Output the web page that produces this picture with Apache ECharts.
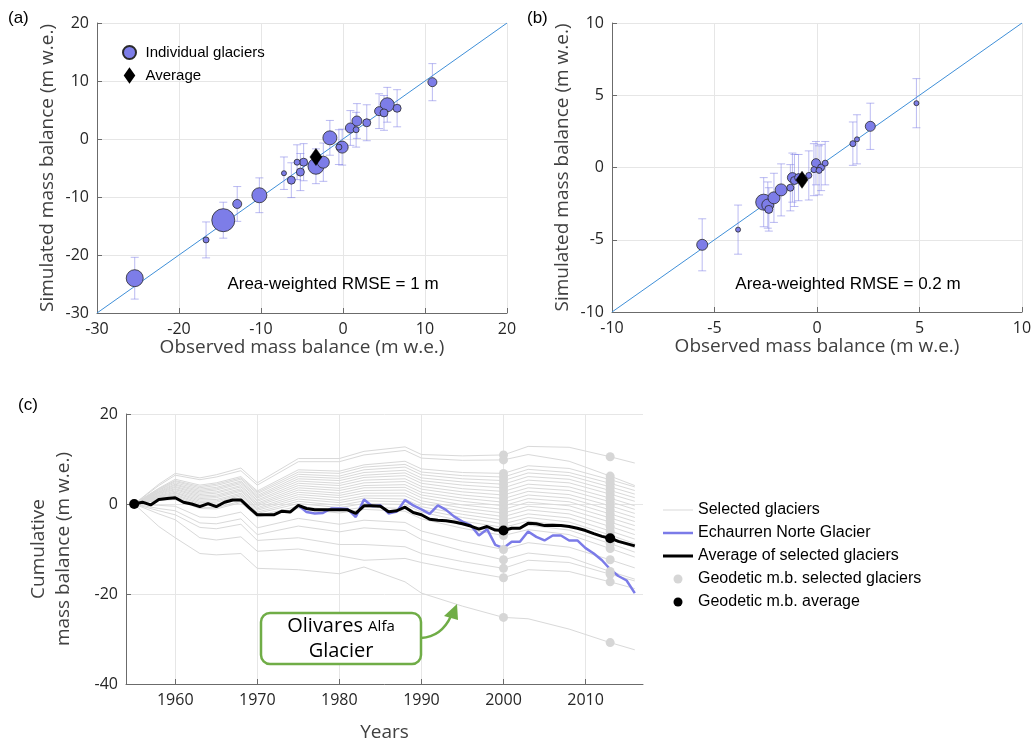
<!DOCTYPE html>
<html>
<head>
<meta charset="utf-8">
<title>Glacier mass balance</title>
<script src="https://cdn.jsdelivr.net/npm/echarts@6/dist/echarts.min.js"></script>
<style>
  html, body { margin: 0; padding: 0; background: #fff; }
  #chart { width: 1035px; height: 743px; }
</style>
</head>
<body>
<div id="chart"></div>
<script>
// ---- (a) all glaciers, observed vs simulated (m w.e.) ----
const obsA = [-25.4, -16.7, -14.6, -12.9, -10.2, -7.2, -6.3, -5.2, -5.6, -4.8, -3.3, -2.4, -1.6, -0.1, -0.5, 0.9, 1.6, 1.7, 2.9, 4.4, 5.0, 5.4, 6.6, 10.9];
const simA = [-24.0, -17.4, -14.0, -11.2, -9.7, -5.9, -7.1, -5.7, -4.0, -4.0, -4.7, -4.0, 0.2, -1.4, -1.4, 1.9, 1.6, 3.1, 2.8, 4.8, 4.5, 5.9, 5.3, 9.8];
const errA = [3.6, 3.1, 3.1, 3.0, 3.0, 2.8, 3.0, 3.2, 3.0, 3.2, 3.0, 3.3, 3.0, 3.1, 3.0, 3.0, 3.0, 3.0, 3.1, 3.0, 3.0, 3.0, 3.2, 3.2];
// bubble diameter, grows with glacier area
const bubbleA = [17, 6, 23, 9, 15, 5, 8, 8, 6, 8, 16, 12, 14, 12, 6, 10, 6, 10, 8, 9, 8, 14, 8, 9];
const avgA = [-3.3, -3.1];
const rangeA = [-30, 20];

// ---- (b) annual balances ----
const obsB = [-5.6, -3.85, -2.6, -2.4, -2.35, -2.1, -1.75, -1.3, -1.2, -1.1, -0.9, -0.4, -0.05, -0.15, 0.1, 0.2, 0.4, 1.75, 1.95, 2.6, 4.85];
const simB = [-5.35, -4.3, -2.4, -2.6, -2.9, -2.1, -1.55, -1.4, -0.7, -0.9, -0.7, -0.55, 0.3, -0.15, -0.2, 0.0, 0.3, 1.65, 1.95, 2.85, 4.45];
const errB = [1.8, 1.7, 1.7, 1.6, 1.5, 1.7, 1.8, 1.6, 1.7, 1.8, 1.6, 1.7, 1.5, 1.8, 1.7, 1.6, 1.5, 1.5, 1.7, 1.6, 1.7];
const bubbleB = [11, 5, 16, 12, 8, 12, 12, 7, 10, 8, 8, 6, 9, 6, 6, 7, 6, 6, 5, 10, 5];
const avgB = [-0.73, -0.85];
const rangeB = [-10, 10];

// ---- (c) cumulative mass balance ----
const yearTicks = [1960, 1970, 1980, 1990, 2000, 2010];
const glacierYears = [1955, 1958, 1960, 1963, 1965, 1968, 1970, 1975, 1980, 1983, 1988, 1990, 1995, 2000, 2003, 2008, 2013, 2016];
const glacierMB = [
  [0, 4.4, 6.8, 5.8, 6.5, 8.0, 4.7, 10.1, 10.1, 11.7, 12.7, 11.0, 10.7, 10.9, 12.8, 12.6, 10.5, 9.1],
  [0, 4.1, 6.4, 5.4, 6.0, 7.4, 4.2, 9.4, 9.4, 10.9, 11.9, 10.2, 9.7, 9.8, 11.0, 9.5, 6.2, 4.1],
  [0, 3.5, 5.5, 4.2, 4.7, 6.1, 2.9, 7.6, 7.3, 8.7, 9.5, 7.8, 7.0, 6.8, 8.5, 7.9, 5.4, 3.8],
  [0, 3.4, 5.2, 3.9, 4.4, 5.8, 2.6, 7.1, 6.8, 8.2, 8.8, 7.1, 6.3, 6.0, 7.7, 7.0, 4.6, 3.0],
  [0, 3.2, 5.0, 3.6, 4.1, 5.5, 2.3, 6.6, 6.2, 7.6, 8.2, 6.5, 5.6, 5.2, 6.9, 6.3, 3.8, 2.2],
  [0, 3.1, 4.7, 3.3, 3.7, 5.1, 1.9, 6.1, 5.7, 7.0, 7.5, 5.8, 4.9, 4.4, 6.1, 5.5, 3.0, 1.4],
  [0, 2.9, 4.4, 3.0, 3.4, 4.8, 1.6, 5.6, 5.2, 6.4, 6.9, 5.2, 4.2, 3.6, 5.3, 4.7, 2.2, 0.6],
  [0, 2.7, 4.2, 2.7, 3.1, 4.5, 1.3, 5.1, 4.6, 5.9, 6.3, 4.6, 3.4, 2.8, 4.4, 3.8, 1.3, -0.4],
  [0, 2.6, 3.9, 2.4, 2.7, 4.1, 0.9, 4.6, 4.1, 5.3, 5.6, 3.9, 2.7, 2.0, 3.6, 3.0, 0.5, -1.2],
  [0, 2.4, 3.7, 2.1, 2.4, 3.8, 0.6, 4.1, 3.5, 4.7, 5.0, 3.3, 2.0, 1.2, 2.8, 2.1, -0.4, -2.1],
  [0, 2.3, 3.4, 1.8, 2.0, 3.4, 0.2, 3.6, 3.0, 4.1, 4.3, 2.6, 1.3, 0.4, 2.0, 1.3, -1.3, -3.0],
  [0, 2.1, 3.2, 1.5, 1.7, 3.1, -0.1, 3.1, 2.4, 3.6, 3.7, 2.0, 0.6, -0.4, 1.2, 0.5, -2.2, -3.9],
  [0, 1.9, 2.9, 1.2, 1.4, 2.8, -0.4, 2.6, 1.9, 3.0, 3.1, 1.4, -0.2, -1.2, 0.4, -0.4, -3.1, -4.8],
  [0, 1.8, 2.6, 0.9, 1.0, 2.4, -0.8, 2.1, 1.4, 2.4, 2.4, 0.7, -0.9, -2.0, -0.5, -1.3, -4.0, -5.8],
  [0, 1.6, 2.4, 0.6, 0.7, 2.1, -1.1, 1.6, 0.8, 1.8, 1.8, 0.1, -1.6, -2.8, -1.3, -2.2, -5.0, -6.8],
  [0, 1.5, 2.1, 0.3, 0.4, 1.8, -1.4, 1.1, 0.3, 1.3, 1.1, -0.6, -2.3, -3.6, -2.2, -3.1, -6.0, -7.8],
  [0, 1.3, 1.9, 0.0, 0.0, 1.4, -1.8, 0.6, -0.3, 0.7, 0.5, -1.2, -3.0, -4.4, -3.0, -4.0, -6.9, -8.8],
  [0, 1.1, 1.6, -0.3, -0.3, 1.1, -2.1, 0.1, -0.8, 0.1, -0.1, -1.8, -3.8, -5.2, -3.8, -4.9, -7.8, -9.7],
  [0, 0.9, 1.2, -0.8, -0.8, 0.6, -2.6, -0.5, -1.5, -0.7, -1.0, -2.7, -4.6, -6.0, -4.7, -5.8, -8.8, -10.7],
  [0, 0.8, 1.0, -1.0, -1.1, 0.3, -2.9, -1.0, -2.0, -1.2, -1.6, -3.3, -5.4, -7.0, -5.7, -6.8, -9.9, -11.8],
  [0, -0.3, -0.5, -2.9, -3.0, -1.8, -5.3, -3.2, -4.5, -3.6, -4.1, -6.0, -8.3, -10.1, -8.6, -9.6, -12.4, -14.2],
  [0, -1.0, -1.5, -4.2, -4.4, -3.3, -6.8, -4.9, -6.2, -5.3, -5.9, -7.9, -10.4, -12.4, -10.9, -11.8, -15.0, -16.7],
  [0, -1.5, -2.4, -5.2, -5.5, -4.5, -8.1, -7.5, -9.0, -9.0, -9.5, -11.0, -12.8, -14.3, -12.5, -13.0, -15.6, -17.1],
  [0, -2.2, -3.5, -7.5, -8.0, -7.3, -10.5, -10.0, -11.5, -12.5, -12.1, -13.0, -14.8, -16.4, -14.6, -15.0, -17.3, -18.8],
  [0, -5.0, -7.5, -11.0, -11.3, -11.0, -14.3, -14.6, -15.5, -14.0, -17.3, -19.8, -22.7, -25.2, -25.5, -27.8, -30.8, -32.4]
];
const avgStart = 1955;
const avgMB = [0, 0.4, -0.2, 1.0, 1.2, 1.4, 0.4, 0.0, -0.6, 0.1, -0.6, 0.4, 0.9, 0.9, -0.8, -2.4, -2.4, -2.4, -1.6, -1.8,
  -0.3, -1.0, -1.3, -1.3, -1.3, -1.3, -1.3, -2.1, -0.4, -0.4, -0.5, -1.7, -1.5, -0.7, -1.9, -2.4, -3.4, -3.6, -3.7, -4.0,
  -4.4, -4.9, -5.6, -5.0, -5.8, -5.9, -5.4, -5.4, -4.3, -4.4, -4.8, -4.7, -4.8, -5.0, -5.4, -5.9, -6.6, -7.2, -7.6, -8.3,
  -8.8, -9.3];
const echStart = 1975;
const echaurrenMB = [-0.3, -1.8, -2.1, -2.0, -1.0, -1.0, -1.1, -2.9, 1.0, -0.5, -0.3, -2.1, -1.7, 0.9, -0.3, -1.2, -2.2, -0.3,
  -1.3, -2.8, -3.9, -4.7, -7.0, -5.6, -9.1, -9.8, -8.4, -8.4, -6.1, -7.3, -8.1, -7.0, -7.0, -8.1, -8.1, -9.8, -11.0, -12.5,
  -14.5, -16.0, -17.0, -19.8];
const geodetic2000 = [10.9, 9.8, 6.8, 6.0, 5.2, 4.4, 3.6, 2.8, 2.0, 1.2, 0.4, -0.4, -1.2, -2.0, -2.8, -3.6, -4.4, -5.2, -6.0, -7.0, -10.1, -12.4, -14.3, -16.4, -25.2];
const geodetic2013 = [10.5, 6.2, 5.4, 4.6, 3.8, 3.0, 2.2, 1.3, 0.5, -0.4, -1.3, -2.2, -3.1, -4.0, -5.0, -6.0, -6.9, -7.8, -8.8, -9.9, -12.4, -15.0, -15.6, -17.3, -30.8];
const geoAvgYears = [1955, 2000, 2013];
const geoAvgMB = [0, -5.9, -7.6];

const FONT = '"Open Sans", sans-serif';
const ARIAL = '"Liberation Sans", Arial, sans-serif';
const BUBBLE = '#7d7de8';
const ERRBAR = 'rgba(120, 120, 230, 0.5)';
const GREEN = '#70ad47';

function axisBase(extra) {
  return Object.assign({
    type: 'value',
    nameLocation: 'middle',
    axisLine: { show: true, onZero: false, lineStyle: { color: '#6b6b6b', width: 1 } },
    axisTick: { show: true, inside: true, length: 5, lineStyle: { color: '#6b6b6b' } },
    splitLine: { show: true, lineStyle: { color: '#e6e6e6', width: 1 } },
    axisLabel: { color: '#262626', fontSize: 16, fontFamily: FONT, margin: 8 },
    nameTextStyle: { color: '#404040', fontSize: 19, fontFamily: FONT },
  }, extra);
}

/** vertical error bars with caps */
function errorSeries(idx, obs, sim, err) {
  return {
    type: 'custom',
    xAxisIndex: idx,
    yAxisIndex: idx,
    silent: true,
    z: 2,
    encode: { x: 0, y: [1, 2] },
    data: obs.map((x, i) => [x, sim[i] - err[i], sim[i] + err[i]]),
    renderItem(params, api) {
      const lo = api.coord([api.value(0), api.value(1)]);
      const hi = api.coord([api.value(0), api.value(2)]);
      const w = 4;
      const style = { stroke: ERRBAR, lineWidth: 1, fill: null };
      return {
        type: 'group',
        children: [
          { type: 'line', shape: { x1: lo[0], y1: lo[1], x2: hi[0], y2: hi[1] }, style },
          { type: 'line', shape: { x1: lo[0] - w, y1: lo[1], x2: lo[0] + w, y2: lo[1] }, style },
          { type: 'line', shape: { x1: hi[0] - w, y1: hi[1], x2: hi[0] + w, y2: hi[1] }, style },
        ],
      };
    },
  };
}

/** bubbles, biggest first so small ones stay visible */
function bubbleSeries(idx, obs, sim, size) {
  const order = obs.map((_, i) => i).sort((a, b) => size[b] - size[a]);
  return {
    name: 'Individual glaciers',
    type: 'scatter',
    xAxisIndex: idx,
    yAxisIndex: idx,
    z: 3,
    data: order.map((i) => [obs[i], sim[i], size[i]]),
    symbolSize: (v) => v[2],
    itemStyle: { color: BUBBLE, borderColor: '#2a2a2a', borderWidth: 0.8, opacity: 1 },
  };
}

function averageSeries(idx, avg) {
  return {
    name: 'Average',
    type: 'scatter',
    xAxisIndex: idx,
    yAxisIndex: idx,
    z: 4,
    symbol: 'diamond',
    symbolSize: [12, 17],
    data: [avg],
    itemStyle: { color: '#000', borderColor: '#000', borderWidth: 0.5, opacity: 1 },
  };
}

function oneToOne(idx, range) {
  return {
    type: 'line',
    xAxisIndex: idx,
    yAxisIndex: idx,
    silent: true,
    z: 1,
    symbol: 'none',
    data: [[range[0], range[0]], [range[1], range[1]]],
    lineStyle: { color: '#3f8fd8', width: 1 },
  };
}

const series = [
  oneToOne(0, rangeA), errorSeries(0, obsA, simA, errA), bubbleSeries(0, obsA, simA, bubbleA), averageSeries(0, avgA),
  oneToOne(1, rangeB), errorSeries(1, obsB, simB, errB), bubbleSeries(1, obsB, simB, bubbleB), averageSeries(1, avgB),
];

glacierMB.forEach((line) => {
  series.push({
    name: 'Selected glaciers',
    type: 'line',
    xAxisIndex: 2,
    yAxisIndex: 2,
    z: 1,
    symbol: 'none',
    silent: true,
    data: glacierYears.map((yr, j) => [yr, line[j]]),
    lineStyle: { color: '#d9d9d9', width: 1 },
    itemStyle: { color: '#d9d9d9' },
  });
});

series.push({
  name: 'Echaurren Norte Glacier',
  type: 'line',
  xAxisIndex: 2,
  yAxisIndex: 2,
  z: 2,
  symbol: 'none',
  data: echaurrenMB.map((v, i) => [echStart + i, v]),
  lineStyle: { color: '#7b7be8', width: 2.5 },
  itemStyle: { color: '#7b7be8' },
});

series.push({
  name: 'Geodetic m.b. selected glaciers',
  type: 'scatter',
  xAxisIndex: 2,
  yAxisIndex: 2,
  z: 3,
  symbolSize: 9,
  data: geodetic2000.map((v) => [2000, v]).concat(geodetic2013.map((v) => [2013, v])),
  itemStyle: { color: '#d6d6d6', opacity: 1 },
});

series.push({
  name: 'Average of selected glaciers',
  type: 'line',
  xAxisIndex: 2,
  yAxisIndex: 2,
  z: 4,
  symbol: 'none',
  data: avgMB.map((v, i) => [avgStart + i, v]),
  lineStyle: { color: '#000', width: 3 },
  itemStyle: { color: '#000' },
});

series.push({
  name: 'Geodetic m.b. average',
  type: 'scatter',
  xAxisIndex: 2,
  yAxisIndex: 2,
  z: 5,
  symbolSize: 10,
  data: geoAvgYears.map((yr, i) => [yr, geoAvgMB[i]]),
  itemStyle: { color: '#000', opacity: 1 },
});

// flat bars as legend icons for the line series
const lineIcon = (h) => 'path://M0,0H30V' + h + 'H0Z';

const option = {
  animation: false,
  backgroundColor: '#fff',
  grid: [
    { left: 97, top: 23, width: 410, height: 290 },
    { left: 612, top: 23, width: 410, height: 289 },
    { left: 126, top: 414, width: 517, height: 270 },
  ],
  xAxis: [
    axisBase({ gridIndex: 0, min: -30, max: 20, interval: 10, name: 'Observed mass balance (m w.e.)', nameGap: 16 }),
    axisBase({ gridIndex: 1, min: -10, max: 10, interval: 5, name: 'Observed mass balance (m w.e.)', nameGap: 16 }),
    axisBase({
      gridIndex: 2, min: 1954, max: 2017, name: 'Years', nameGap: 39,
      axisTick: { show: true, inside: true, length: 5, customValues: yearTicks, lineStyle: { color: '#6b6b6b' } },
      axisLabel: { color: '#262626', fontSize: 16, fontFamily: FONT, margin: 8, customValues: yearTicks, formatter: (v) => String(v) },
    }),
  ],
  yAxis: [
    axisBase({ gridIndex: 0, min: -30, max: 20, interval: 10, name: 'Simulated mass balance (m w.e.)', nameGap: 40 }),
    axisBase({ gridIndex: 1, min: -10, max: 10, interval: 5, name: 'Simulated mass balance (m w.e.)', nameGap: 40 }),
    axisBase({
      gridIndex: 2, min: -40, max: 20, interval: 20, name: 'Cumulative\nmass balance (m w.e.)', nameGap: 50,
      nameTextStyle: { color: '#404040', fontSize: 19, fontFamily: FONT, lineHeight: 25, align: 'center' },
    }),
  ],
  legend: [
    {
      left: 117, top: 40, orient: 'vertical', itemWidth: 22, itemHeight: 13, itemGap: 8, selectedMode: false,
      data: [
        { name: 'Individual glaciers', icon: 'circle' },
        { name: 'Average', icon: 'path://M6,0L12,8.5L6,17L0,8.5Z' },
      ],
      textStyle: { fontSize: 15, fontFamily: ARIAL, color: '#000' },
    },
    {
      left: 658, top: 497, orient: 'vertical', itemWidth: 30, itemHeight: 9, itemGap: 7, selectedMode: false,
      data: [
        { name: 'Selected glaciers', icon: lineIcon(1) },
        { name: 'Echaurren Norte Glacier', icon: lineIcon(2.5) },
        { name: 'Average of selected glaciers', icon: lineIcon(3) },
        { name: 'Geodetic m.b. selected glaciers', icon: 'circle' },
        { name: 'Geodetic m.b. average', icon: 'circle' },
      ],
      textStyle: { fontSize: 16, fontFamily: ARIAL, color: '#000' },
    },
  ],
  graphic: [
    { type: 'text', x: 8, y: 10, style: { text: '(a)', fontSize: 17, fontFamily: ARIAL, fill: '#000' } },
    { type: 'text', x: 527, y: 10, style: { text: '(b)', fontSize: 17, fontFamily: ARIAL, fill: '#000' } },
    { type: 'text', x: 18, y: 397, style: { text: '(c)', fontSize: 17, fontFamily: ARIAL, fill: '#000' } },
    {
      type: 'text', x: 333, y: 284, z: 10,
      style: { text: 'Area-weighted RMSE = 1 m', fontSize: 17, fontFamily: ARIAL, fill: '#000', align: 'center', verticalAlign: 'middle' },
    },
    {
      type: 'text', x: 848, y: 284, z: 10,
      style: { text: 'Area-weighted RMSE = 0.2 m', fontSize: 17, fontFamily: ARIAL, fill: '#000', align: 'center', verticalAlign: 'middle' },
    },
    {
      type: 'rect', z: 10,
      shape: { x: 261, y: 613, width: 160, height: 51, r: 9 },
      style: { fill: '#fff', stroke: GREEN, lineWidth: 2.5 },
    },
    {
      type: 'text', x: 341, y: 639, z: 11,
      style: {
        text: '{a|Olivares }{b|Alfa}\n{a|Glacier}',
        align: 'center', verticalAlign: 'middle',
        rich: {
          a: { fontSize: 20, fontFamily: FONT, fill: '#000', lineHeight: 25 },
          b: { fontSize: 15, fontFamily: FONT, fill: '#000', lineHeight: 25 },
        },
      },
    },
    {
      type: 'bezierCurve', z: 10,
      shape: { x1: 421, y1: 638, cpx1: 437, cpy1: 637, cpx2: 446, cpy2: 627, x2: 451, y2: 616 },
      style: { stroke: GREEN, lineWidth: 2.5, fill: null },
    },
    {
      type: 'polygon', z: 10,
      shape: { points: [[457, 604], [444, 616], [458, 620]] },
      style: { fill: GREEN },
    },
  ],
  series,
};

const chart = echarts.init(document.getElementById('chart'));
chart.setOption(option);
</script>
</body>
</html>
